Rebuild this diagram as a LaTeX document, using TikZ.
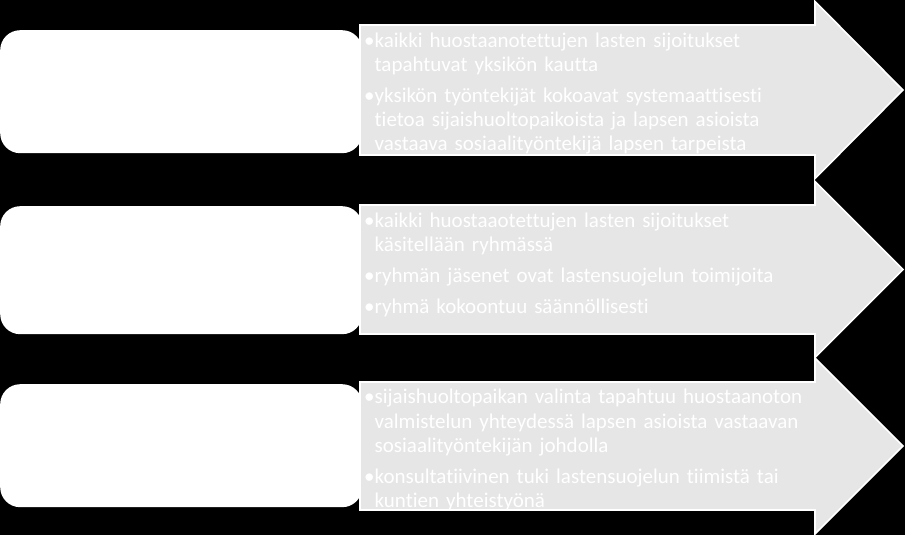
\documentclass[tikz,border=0pt]{standalone}
\usepackage{fontspec}
\setmainfont{Carlito}[Ligatures=NoCommon]
\definecolor{arrowgray}{HTML}{E6E6E6}
\newlength\bw
\tikzset{
  panel/.style={fill=white, draw=none, rounded corners=20pt},
  arrowshape/.style={fill=arrowgray, draw=white, line width=1.6pt, line join=miter},
  bullets/.style={anchor=north west, inner sep=0pt, text width=560pt, align=left,
    text=white, font=\fontsize{21}{24.3}\selectfont},
}
\newcommand\cont{\hspace*{\bw}}
\newcommand\firstline{\rule{0pt}{18pt}}
\begin{document}
\settowidth\bw{\fontsize{21}{24.3}\selectfont •}
\begin{tikzpicture}[x=1pt,y=-1pt]
\useasboundingbox (0,0) rectangle (905,535);
\fill[black] (0,0) rectangle (905,535);

% left panels
\node[panel, minimum width=362pt, minimum height=123pt, anchor=north west, inner sep=0pt] (p1) at (0,30) {};
\node[panel, minimum width=362pt, minimum height=128pt, anchor=north west, inner sep=0pt] (p2) at (0,206) {};
\node[panel, minimum width=362pt, minimum height=123pt, anchor=north west, inner sep=0pt] (p3) at (0,384) {};

% arrows
\draw[arrowshape] (360,25) -- (815,25) -- (815,1.5) -- (903,90) -- (815,178.5) -- (815,155) -- (360,155) -- cycle;
\draw[arrowshape] (360,205) -- (815,205) -- (815,181.5) -- (903,269.5) -- (815,357.5) -- (815,334) -- (360,334) -- cycle;
\draw[arrowshape] (360,382) -- (815,382) -- (815,358) -- (903,446) -- (815,534) -- (815,510) -- (360,510) -- cycle;

% texts
\node[bullets] (t1) at (364,29) {\firstline•kaikki huostaanotettujen lasten sijoitukset\\
\cont tapahtuvat yksikön kautta\\[6.5pt]
•yksikön työntekijät kokoavat systemaattisesti\\
\cont tietoa sijaishuoltopaikoista ja lapsen asioista\\
\cont vastaava sosiaalityöntekijä lapsen tarpeista};

\node[bullets] (t2) at (364,209) {\firstline•kaikki huostaaotettujen lasten sijoitukset\\
\cont käsitellään ryhmässä\\[6.5pt]
•ryhmän jäsenet ovat lastensuojelun toimijoita\\[6.5pt]
•ryhmä kokoontuu säännöllisesti};

\node[bullets] (t3) at (364,385.5) {\firstline•sijaishuoltopaikan valinta tapahtuu huostaanoton\\
\cont valmistelun yhteydessä lapsen asioista vastaavan\\
\cont sosiaalityöntekijän johdolla\\[6.5pt]
•konsultatiivinen tuki lastensuojelun tiimistä tai\\
\cont kuntien yhteistyönä};
\end{tikzpicture}
\end{document}
